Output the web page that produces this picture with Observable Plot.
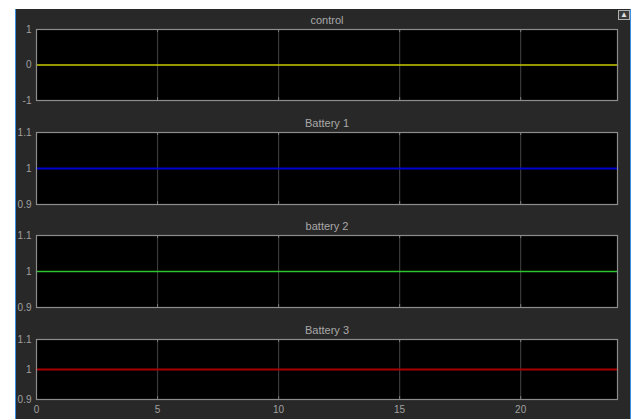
<!DOCTYPE html>
<html>
<head>
<meta charset="utf-8">
<script src="https://cdn.jsdelivr.net/npm/d3@7"></script>
<script src="https://cdn.jsdelivr.net/npm/@observablehq/plot@0.6"></script>
<style>
  html, body { margin: 0; padding: 0; background: #ffffff; }
  #wrap { position: relative; width: 638px; height: 419px; overflow: hidden; background: #ffffff; font-family: "Liberation Sans", Arial, sans-serif; }
  #scope { position: absolute; left: 15px; top: 9px; width: 616px; height: 410px; background: #282828; border-left: 1px solid #3a8ee0; border-right: 1px solid #3a8ee0; box-sizing: border-box; }
  .panel { position: absolute; left: 15px; }
  #icon { position: absolute; left: 618px; top: 10px; width: 10px; height: 8px; border: 1px solid #b0b0b0; background: #3a3a3a; color: #e0e0e0; font-size: 8px; line-height: 8px; text-align: center; }
</style>
</head>
<body>
<div id="wrap">
  <div id="scope"></div>
  <div id="icon">▲</div>
</div>
<script>
// ---- data ----
const time = [0, 24];
const control = [0, 0];
const battery1 = [1, 1];
const battery2 = [1, 1];
const battery3 = [1, 1];
const xTicks = [0, 5, 10, 15, 20];
const controlTicks = [-1, 0, 1];
const batteryTicks = [0.9, 1, 1.1];
const titles = ["control", "Battery 1", "battery 2", "Battery 3"];

const series = [control, battery1, battery2, battery3];
const colors = ["#c8c800", "#0000d2", "#2ec42e", "#a80000"];
const widths = [1.6, 2.2, 1.3, 2.2];
const yTicksList = [controlTicks, batteryTicks, batteryTicks, batteryTicks];
// layout: plot-area top and height for each panel (page pixels)
const tops = [29, 132, 235, 339];
const heights = [71, 72, 72, 60];

const wrap = document.getElementById("wrap");
const fmt = v => String(v);

series.forEach((vals, i) => {
  const yt = yTicksList[i];
  const ydom = [yt[0], yt[yt.length - 1]];
  const isLast = i === series.length - 1;
  const h = heights[i];
  const tickLen = 3 / h * (ydom[1] - ydom[0]);
  const data = time.map((t, k) => ({t, v: vals[k]}));
  const marks = [
    Plot.frame({fill: "#000000", stroke: null}),
    Plot.gridX(xTicks.slice(1), {stroke: "#3a3a3a", strokeOpacity: 1, strokeWidth: 1.2}),
    Plot.ruleX(xTicks.slice(1), {y1: ydom[1], y2: ydom[1] - tickLen, stroke: "#7a7a7a", strokeWidth: 1}),
    Plot.ruleX(xTicks.slice(1), {y1: ydom[0], y2: ydom[0] + tickLen, stroke: "#7a7a7a", strokeWidth: 1}),
    Plot.line(data, {x: "t", y: "v", stroke: colors[i], strokeWidth: widths[i]}),
    Plot.frame({stroke: "#8c8c8c", strokeWidth: 1.2}),
    Plot.axisY(yt, {tickSize: 0, tickPadding: 5, tickFormat: fmt, fill: "#a0a0a0", fontSize: 10, label: null}),
    Plot.text([titles[i]], {frameAnchor: "top", dy: -13, fill: "#a8a8a8", fontSize: 11})
  ];
  if (isLast) {
    marks.push(Plot.axisX(xTicks, {tickSize: 0, tickPadding: 6, fill: "#a0a0a0", fontSize: 10, label: null}));
  }
  const chart = Plot.plot({
    width: 616,
    height: 20 + h + (isLast ? 20 : 0),
    marginTop: 20,
    marginBottom: isLast ? 20 : 0,
    marginLeft: 21,
    marginRight: 14,
    style: {background: "transparent", fontFamily: "Liberation Sans, Arial, sans-serif", overflow: "visible"},
    x: {domain: [time[0], time[time.length - 1]], axis: null},
    y: {domain: ydom, axis: null},
    marks
  });
  chart.classList.add("panel");
  chart.style.position = "absolute";
  chart.style.left = "15px";
  chart.style.top = (tops[i] - 20) + "px";
  wrap.appendChild(chart);
});
</script>
</body>
</html>
